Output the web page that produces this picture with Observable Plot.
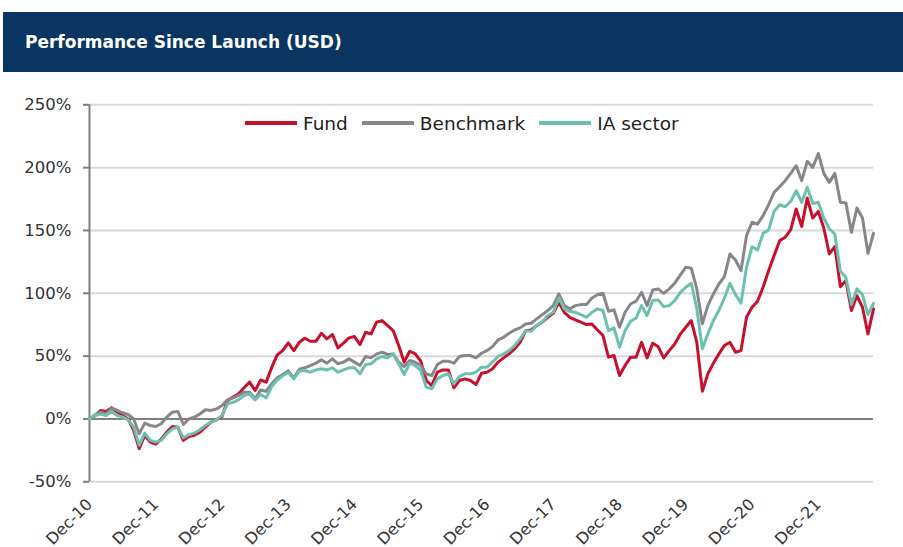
<!DOCTYPE html>
<html>
<head>
<meta charset="utf-8">
<script src="https://cdn.jsdelivr.net/npm/d3@7"></script>
<script src="https://cdn.jsdelivr.net/npm/@observablehq/plot@0.6"></script>
<style>
  body { margin: 0; background: #fff; width: 903px; height: 547px; position: relative; overflow: hidden; font-family: "DejaVu Sans", sans-serif; }
  #banner { position: absolute; left: 3px; top: 12px; width: 900px; height: 60px; background: #0b3561; color: #fff; font-weight: bold; font-size: 17px; line-height: 60px; padding-left: 22px; box-sizing: border-box; }
  #chart { position: absolute; left: 0; top: 72px; }
  #legend { position: absolute; top: 112px; left: 245px; height: 22px; display: flex; align-items: center; font-size: 18.5px; color: #222; }
  .item { display: flex; align-items: center; margin-right: 14px; }
  .sw { width: 52px; height: 4px; margin-right: 6px; }
</style>
</head>
<body>
<div id="banner">Performance Since Launch (USD)</div>
<div id="chart"></div>
<div id="legend"></div>
<script>
// ---- data (monthly, Dec-10 .. Oct-22, cumulative % return) ----
const seriesNames = ["Fund", "Benchmark", "IA sector"];

const fundValues = [
  0, 2.6, 6.7, 6, 9, 5.4, 2.8, 0, -9, -23.6, -13, -18.4,
  -20, -16, -10.5, -6, -6.5, -17, -14, -13, -10.5, -6.5, -2.5, -0.7,
  2, 14.7, 17.4, 20, 24.8, 29.3, 22.7, 31, 29.3, 41, 51, 54.4,
  60.5, 54.4, 61, 64.2, 61.8, 61.8, 68.2, 63.7, 67.2, 56.6, 60.3, 64.5,
  65.6, 59.2, 69, 67.7, 77, 78.3, 74.3, 70.3, 58.4, 45.2, 53.9, 51.8,
  46, 30.6, 26.6, 37.2, 39, 39, 24.8, 30.6, 31.9, 30.6, 27.4, 36.4,
  37.2, 39.9, 45.2, 48.6, 51.8, 55.8, 61, 70.3, 70.8, 74.3, 77, 80.9,
  84.1, 92.9, 84.9, 80.9, 78.8, 77, 75.1, 75.6, 70.8, 66.4, 49.2, 50.5,
  34.6, 42.5, 49.2, 49.2, 61, 48.6, 60.3, 57.6, 48.6, 54.4, 59.7, 67.5,
  73, 78.3, 61, 22.1, 35.9, 44.4, 51.8, 58.4, 61, 53.1, 54.4, 80.9,
  88.9, 93.7, 104.8, 118, 130, 141.9, 144.6, 150.4, 167.1, 153.1, 175.8, 159.9,
  165.2, 152, 131.3, 137.1, 105.3, 110.1, 86.3, 98.2, 88.9, 67.7, 87.6
];

const benchmarkValues = [
  0, 3.3, 5.4, 4, 8.8, 6.8, 4.9, 3.6, 0, -11.8, -3.3, -5.2,
  -6, -3.8, 1.5, 5.4, 6, -4.4, 0, 1.5, 4, 7.3, 6.8, 8,
  10.7, 15.2, 16.8, 18.7, 21.3, 21.3, 16, 23, 22, 28, 32.7, 35.4,
  38.3, 32.7, 39.6, 40.7, 42.5, 44.4, 47, 44.4, 47.8, 43.9, 45.2, 47.8,
  45.2, 42.5, 49.7, 48.6, 51.8, 53.1, 51.3, 51.8, 45.2, 41.7, 46.5, 45.2,
  42.5, 35.9, 34.6, 43.3, 46, 46, 44.4, 49.7, 50.5, 50.5, 48.6, 52.3,
  54.4, 57.6, 62.9, 65, 68.2, 70.8, 72.5, 75.6, 76.2, 79.6, 83, 86.3,
  90.2, 99.5, 90.2, 87.6, 90.2, 91, 91, 96.3, 98.9, 100, 85.7, 86.8,
  73, 84.9, 91.5, 93.7, 100.8, 90.2, 102.7, 103.5, 100, 103.5, 108, 114.5,
  120.7, 119.9, 103.5, 75.7, 90.2, 99.5, 107.4, 113.3, 131.3, 126.5, 118, 145.9,
  156.5, 155.1, 161.8, 170.5, 180.3, 184.8, 189.6, 195.4, 201.5, 189.6, 205, 200.2,
  211.3, 195.4, 188.3, 195.4, 172.4, 171.8, 148.5, 167.9, 159.9, 131.8, 147.7
];

const sectorValues = [
  0, 2.8, 4, 2.8, 6, 2.8, 1.5, -0.7, -6.5, -21, -11.3, -17,
  -18.4, -17, -11.8, -7.8, -6.5, -15, -12.6, -11.3, -8.6, -5.2, -2.5, -0.7,
  2.8, 12, 13.3, 15.2, 18.7, 20, 15.2, 19.5, 16.8, 25.8, 31, 34.4,
  37, 31.9, 38, 38.6, 37.2, 39, 39.9, 39, 40.7, 37.2, 39, 40.7,
  40.7, 35.9, 43.3, 43.9, 47.8, 49.7, 48.6, 51.8, 43.9, 35.4, 44.4, 42.5,
  38.6, 25.3, 24, 31.9, 34.6, 35.9, 27.9, 33.8, 35.9, 35.9, 37.2, 41.2,
  41.2, 45.2, 49.7, 51.8, 54.4, 58.4, 63.7, 70.3, 69.8, 74.3, 77, 82.3,
  84.9, 96.3, 87.6, 85.7, 84.9, 83, 80.9, 84.9, 87.6, 86.3, 70.3, 72.5,
  57.1, 70.3, 77.7, 80.4, 90.2, 82.3, 94.2, 94.7, 89.4, 90.2, 94.2, 100.5,
  104.8, 108, 87.6, 55.8, 67.7, 78.3, 86.3, 96.3, 108, 98.9, 92.1, 120.7,
  137.1, 134.5, 147.7, 150.4, 165.2, 170.5, 168.9, 173.1, 181.6, 172.4, 184.3, 171.5,
  172.4, 159.9, 151.2, 147.2, 117.5, 112.7, 91, 103.5, 98.9, 83, 92.1
];

const xTickLabels = ["Dec-10", "Dec-11", "Dec-12", "Dec-13", "Dec-14", "Dec-15",
                     "Dec-16", "Dec-17", "Dec-18", "Dec-19", "Dec-20", "Dec-21"];
const yTickValues = [-50, 0, 50, 100, 150, 200, 250];

// ---- styles ----
const seriesColors = ["#c8102e", "#87878a", "#6cc0af"];

// ---- build table ----
const allSeries = [fundValues, benchmarkValues, sectorValues];
const rows = [];
allSeries.forEach((vals, s) => vals.forEach((v, i) => rows.push({month: i, series: seriesNames[s], value: v})));
const xTickPositions = xTickLabels.map((_, i) => i * 12);

const chart = Plot.plot({
  width: 903,
  height: 475,
  marginLeft: 89,
  marginRight: 30,
  marginTop: 32.3,
  marginBottom: 65.7,
  style: {fontFamily: "DejaVu Sans, sans-serif", fontSize: "16px", color: "#333", background: "transparent", overflow: "visible"},
  x: {domain: [0, fundValues.length - 1]},
  y: {domain: [-50, 250]},
  color: {domain: seriesNames, range: seriesColors},
  marks: [
    Plot.gridY({ticks: yTickValues, stroke: "#d9d9d9", strokeOpacity: 1, strokeWidth: 2}),
    Plot.ruleY([0], {stroke: "#7f7f7f", strokeWidth: 2}),
    Plot.ruleX([0], {y1: -50, y2: 250, stroke: "#7f7f7f", strokeWidth: 2}),
    Plot.axisY({ticks: yTickValues, tickFormat: d => d + "%", tickSize: 6, tickPadding: 12, label: null,
                stroke: "#7f7f7f", strokeWidth: 2, fill: "#333", fontSize: 16.5}),
    Plot.axisX({ticks: xTickPositions, tickFormat: d => xTickLabels[d / 12], tickSize: 0, label: null,
                tickPadding: 20, tickRotate: -45, fill: "#333", fontSize: 16}),
    Plot.line(rows, {x: "month", y: "value", z: "series", stroke: "series", strokeWidth: 3,
                     strokeLinejoin: "round", strokeLinecap: "round"})
  ]
});
document.getElementById("chart").appendChild(chart);

const legend = document.getElementById("legend");
seriesNames.forEach((name, i) => {
  const item = document.createElement("div");
  item.className = "item";
  const sw = document.createElement("div");
  sw.className = "sw";
  sw.style.background = seriesColors[i];
  const label = document.createElement("span");
  label.textContent = name;
  item.appendChild(sw);
  item.appendChild(label);
  legend.appendChild(item);
});
</script>
</body>
</html>
